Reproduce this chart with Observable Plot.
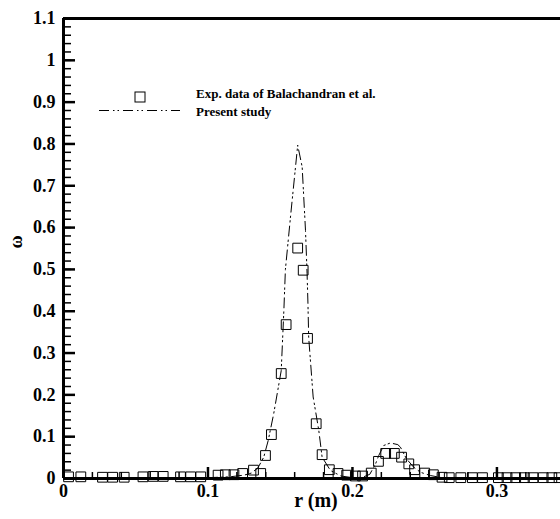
<!DOCTYPE html>
<html>
<head>
<meta charset="utf-8">
<script src="https://cdn.jsdelivr.net/npm/d3@7"></script>
<script src="https://cdn.jsdelivr.net/npm/@observablehq/plot@0.6"></script>
<style>
  html, body { margin: 0; padding: 0; background: white; }
  #wrap { position: relative; width: 560px; height: 519px; }
  #legend { position: absolute; left: 0; top: 0; pointer-events: none; }
</style>
</head>
<body>
<div id="wrap"></div>
<script>
// Experimental data (squares)
const rExp = [0.0035, 0.012, 0.027, 0.034, 0.042, 0.055, 0.062, 0.069, 0.081, 0.088, 0.095,
  0.107, 0.112, 0.118, 0.124, 0.1315, 0.1365, 0.1398, 0.1439, 0.1507, 0.1541, 0.1621, 0.1659,
  0.1689, 0.1749, 0.179, 0.184, 0.19, 0.196, 0.202, 0.207, 0.213, 0.218, 0.223, 0.229, 0.234,
  0.239, 0.243, 0.25, 0.256, 0.262, 0.267, 0.275, 0.283, 0.29, 0.301, 0.307, 0.313, 0.319,
  0.325, 0.332, 0.338, 0.343];
const wExp = [0.004, 0.004, 0.003, 0.003, 0.003, 0.004, 0.005, 0.005, 0.004, 0.004, 0.004,
  0.008, 0.009, 0.009, 0.012, 0.02, 0.012, 0.055, 0.105, 0.251, 0.368, 0.551, 0.498,
  0.335, 0.131, 0.057, 0.021, 0.012, 0.008, 0.006, 0.006, 0.013, 0.041, 0.06, 0.06, 0.051,
  0.035, 0.021, 0.013, 0.009, 0.003, 0.002, 0.002, 0.002, 0.002, 0.002, 0.002, 0.002, 0.002,
  0.002, 0.002, 0.002, 0.002];

// Present study (dash-dot line)
const rLine = [0, 0.02, 0.05, 0.08, 0.10, 0.115, 0.125, 0.13, 0.1345, 0.1386, 0.1417, 0.1455,
  0.1507, 0.1525, 0.1536, 0.1571, 0.1621, 0.1652, 0.1675, 0.1686, 0.1692, 0.1697, 0.1728,
  0.1767, 0.179, 0.1848, 0.192, 0.2, 0.207, 0.212, 0.216, 0.2182, 0.2217, 0.2263, 0.2314,
  0.2332, 0.2374, 0.2424, 0.247, 0.254, 0.262, 0.28, 0.31, 0.344];
const wLine = [0.001, 0.001, 0.001, 0.001, 0.002, 0.004, 0.008, 0.013, 0.025, 0.051, 0.091, 0.155,
  0.258, 0.40, 0.50, 0.625, 0.797, 0.745, 0.593, 0.49, 0.418, 0.338, 0.195,
  0.115, 0.051, 0.019, 0.006, 0.002, 0.003, 0.01, 0.035, 0.055, 0.079, 0.085, 0.081,
  0.075, 0.047, 0.027, 0.015, 0.007, 0.002, 0.001, 0.001, 0.001];

// Ticks
const xMajor = [0, 0.1, 0.2, 0.3];
const xLabels = ["0", "0.1", "0.2", "0.3"];
const yMajor = [0, 0.1, 0.2, 0.3, 0.4, 0.5, 0.6, 0.7, 0.8, 0.9, 1, 1.1];
const yLabels = ["0", "0.1", "0.2", "0.3", "0.4", "0.5", "0.6", "0.7", "0.8", "0.9", "1", "1.1"];
const xMinor = d3.range(0, 17).map(i => i * 0.02);
const yMinor = d3.range(0, 56).map(i => i * 0.02);

const expData = rExp.map((r, i) => ({r, w: wExp[i]}));
const lineData = rLine.map((r, i) => ({r, w: wLine[i]}));

const W = 560, H = 519, mL = 63, mR = 0, mT = 18, mB = 41;
const frameW = W - mL - mR, frameH = H - mT - mB;
const dash = "10,4,1.5,3,1.5,4";

const chart = Plot.plot({
  width: W, height: H,
  marginLeft: mL, marginRight: mR, marginTop: mT, marginBottom: mB,
  x: {domain: [0, 0.344]},
  y: {domain: [0, 1.1]},
  style: {fontFamily: "'Liberation Serif', 'Times New Roman', serif", fontWeight: "bold", background: "white", color: "black", overflow: "visible"},
  marks: [
    Plot.tickX(xMinor, {x: d => d, insetTop: frameH - 6, stroke: "black", strokeWidth: 1.5}),
    Plot.tickX(xMajor, {x: d => d, insetTop: frameH - 11, stroke: "black", strokeWidth: 2.5}),
    Plot.tickY(yMinor, {y: d => d, insetRight: frameW - 8, stroke: "black", strokeWidth: 1.5}),
    Plot.tickY(yMajor, {y: d => d, insetRight: frameW - 12, stroke: "black", strokeWidth: 2.5}),
    Plot.line(lineData, {x: "r", y: "w", stroke: "black", strokeWidth: 1, strokeDasharray: dash}),
    Plot.dot(expData, {x: "r", y: "w", symbol: "square", r: 5.5, stroke: "black", strokeWidth: 1, fill: "none"}),
    Plot.ruleX([0], {stroke: "black", strokeWidth: 3}),
    Plot.ruleY([0, 1.1], {stroke: "black", strokeWidth: 3}),
    Plot.axisX({ticks: xMajor, tickSize: 0, tickPadding: 6, fontSize: 18,
      tickFormat: (d, i) => xLabels[i], label: null}),
    Plot.axisY({ticks: yMajor, tickSize: 0, tickPadding: 8, fontSize: 18,
      tickFormat: (d, i) => yLabels[i], label: null}),
    Plot.text(["r (m)"], {frameAnchor: "bottom", dy: 28, dx: 4, fontSize: 20, fontWeight: "bold"}),
    Plot.text(["ω"], {frameAnchor: "left", dx: -47, rotate: -90, fontSize: 18, fontWeight: "bold"})
  ]
});

const wrap = document.getElementById("wrap");
wrap.appendChild(chart);

// Legend
const ns = "http://www.w3.org/2000/svg";
const leg = document.createElementNS(ns, "svg");
leg.setAttribute("id", "legend");
leg.setAttribute("width", 560);
leg.setAttribute("height", 140);
leg.style.fontFamily = "'Liberation Serif', 'Times New Roman', serif";
leg.style.fontWeight = "bold";
leg.style.fontSize = "13px";
const legendItems = ["Exp. data of Balachandran et al.", "Present study"];
const sq = document.createElementNS(ns, "rect");
sq.setAttribute("x", 135); sq.setAttribute("y", 92);
sq.setAttribute("width", 10); sq.setAttribute("height", 10);
sq.setAttribute("fill", "none"); sq.setAttribute("stroke", "black"); sq.setAttribute("stroke-width", 1);
leg.appendChild(sq);
const ln = document.createElementNS(ns, "line");
ln.setAttribute("x1", 99); ln.setAttribute("x2", 180);
ln.setAttribute("y1", 110.5); ln.setAttribute("y2", 110.5);
ln.setAttribute("stroke", "black"); ln.setAttribute("stroke-width", 1);
ln.setAttribute("stroke-dasharray", dash);
leg.appendChild(ln);
[[legendItems[0], 97.5], [legendItems[1], 116]].forEach(([t, y]) => {
  const tx = document.createElementNS(ns, "text");
  tx.setAttribute("x", 196); tx.setAttribute("y", y);
  tx.textContent = t;
  leg.appendChild(tx);
});
wrap.appendChild(leg);
</script>
</body>
</html>
